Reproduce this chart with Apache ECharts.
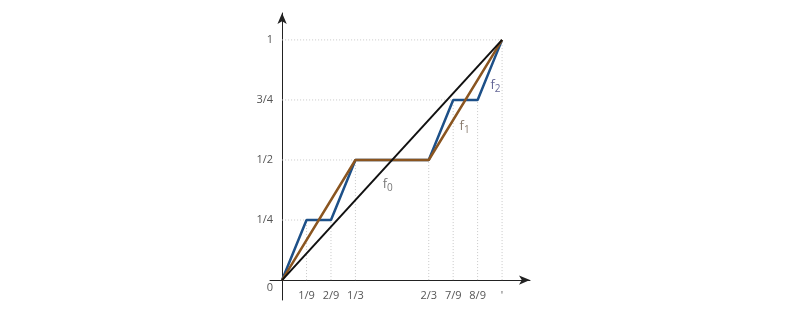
<!DOCTYPE html>
<html><head><meta charset="utf-8">
<script src="https://cdn.jsdelivr.net/npm/echarts@6/dist/echarts.min.js"></script>
<style>html,body{margin:0;padding:0;background:#fff}#c{width:806px;height:310px}</style>
</head><body><div id="c"></div>
<script>
// data
const f0X = [0, 1];
const f0Y = [0, 1];
const f1X = [0, 1/3, 2/3, 1];
const f1Y = [0, 0.5, 0.5, 1];
const f2X = [0, 1/9, 2/9, 1/3, 2/3, 7/9, 8/9, 1];
const f2Y = [0, 0.25, 0.25, 0.5, 0.5, 0.75, 0.75, 1];
const xTickVals = [1/9, 2/9, 1/3, 2/3, 7/9, 8/9, 1];
const xTickLabels = ['1/9', '2/9', '1/3', '2/3', '7/9', '8/9', "'"];
const yTickVals = [0, 0.25, 0.5, 0.75, 1];
const yTickLabels = ['0', '1/4', '1/2', '3/4', '1'];
// guide lines
const guideX = [1/9, 2/9, 1/3, 2/3, 7/9, 8/9, 1];
const guideXTop = [0.25, 0.25, 0.5, 0.5, 0.75, 0.75, 1];
const guideY = [0.25, 0.5, 0.75, 1];
const guideYRight = [2/9, 2/3, 8/9, 1];
// function name labels
const fnNames = ['0', '1', '2'];
const fnLabelPos = [[0.48, 0.40], [0.83, 0.64], [0.97, 0.81]];
const fnLabelColors = ['#555', '#6b5a4a', '#3b3f7a'];

const zip = (xs, ys) => xs.map((x, i) => [x, ys[i]]);
const font = 'Open Sans';
const guideSegs = [];
guideX.forEach((x, i) => guideSegs.push([[x, 0], [x, guideXTop[i]]]));
guideY.forEach((y, i) => guideSegs.push([[0, y], [guideYRight[i], y]]));
const guideSeries = guideSegs.map(seg => ({
  type: 'line', z: 1, data: seg, symbol: 'none', silent: true,
  lineStyle: {type: [1, 2], color: '#c8c8c8', width: 1}
}));

const chart = echarts.init(document.getElementById('c'), null, {renderer: 'canvas'});
chart.setOption({
  animation: false,
  grid: {left: 270, top: 13, width: 260, height: 287, outerBoundsMode: 'none', containLabel: false},
  xAxis: {
    type: 'value', min: -0.055, max: 1.127,
    splitLine: {show: false}, axisTick: {show: false},
    axisLine: {onZero: true, lineStyle: {color: '#222', width: 1}, symbol: ['none', 'arrow'], symbolSize: [7, 11]},
    axisLabel: {
      customValues: xTickVals, margin: -10, color: '#555', fontFamily: font, fontSize: 11,
      formatter: v => { const i = xTickVals.findIndex(t => Math.abs(t - v) < 1e-6); return i >= 0 ? xTickLabels[i] : ''; }
    }
  },
  yAxis: {
    type: 'value', min: -0.083, max: 1.112,
    splitLine: {show: false}, axisTick: {show: false},
    axisLine: {onZero: true, lineStyle: {color: '#222', width: 1}, symbol: ['none', 'arrow'], symbolSize: [7, 11]},
    axisLabel: {
      customValues: yTickVals, margin: -3, color: '#555', fontFamily: font, fontSize: 11,
      formatter: v => { const i = yTickVals.findIndex(t => Math.abs(t - v) < 1e-6); if (i === 0) return '{z|0}'; return i >= 0 ? yTickLabels[i] : ''; },
      rich: {z: {padding: [16, 0, 0, 0], color: '#555', fontFamily: font, fontSize: 11}}
    }
  },
  series: guideSeries.concat([
    {type: 'line', z: 3, data: zip(f2X, f2Y), symbol: 'none', lineStyle: {color: '#1d5088', width: 2.5}},
    {type: 'line', z: 4, data: zip(f1X, f1Y), symbol: 'none', lineStyle: {color: '#8a5520', width: 2.5}},
    {type: 'line', z: 5, data: zip(f0X, f0Y), symbol: 'none', lineStyle: {color: '#111', width: 2}},
    {type: 'scatter', z: 6, symbolSize: 0, data: fnLabelPos.map((p, i) => ({value: p,
      label: {show: true, position: 'inside', formatter: 'f{s|' + fnNames[i] + '}',
        color: fnLabelColors[i], fontFamily: font, fontSize: 13,
        rich: {s: {fontSize: 10, color: fnLabelColors[i], fontFamily: font, padding: [8, 0, 0, 0]}}}}))}
  ])
});
</script></body></html>
